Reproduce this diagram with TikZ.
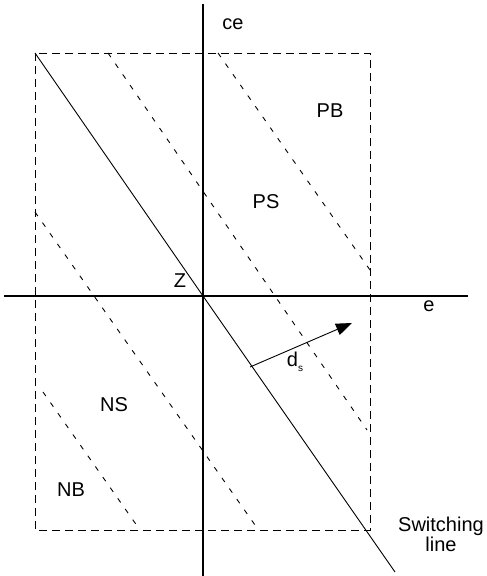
\documentclass[tikz,border=0pt]{standalone}
\usepackage{fontspec}
\setmainfont{Liberation Sans}
\usetikzlibrary{arrows.meta}

\tikzset{
  axis/.style={line width=1.4pt},
  boxline/.style={dash pattern=on 8pt off 5pt, line width=0.9pt},
  level/.style={dash pattern=on 5pt off 8pt, line width=0.9pt},
  swline/.style={line width=0.9pt},
  lbl/.style={font=\fontsize{20}{20}\selectfont, inner sep=0pt, align=center},
}

\begin{document}
\begin{tikzpicture}[x=1pt, y=-1pt]
    \useasboundingbox (0,0) rectangle (487,576);

    % axes
    \coordinate (O) at (203,296);
    \coordinate (eL) at (4,296);
    \coordinate (eR) at (468,296);
    \coordinate (ceT) at (203,4);
    \coordinate (ceB) at (203,576);
    \draw[axis] (eL) -- (eR);
    \draw[axis] (ceT) -- (ceB);

    % dashed box
    \coordinate (bTL) at (35,53);
    \coordinate (bBR) at (370,530);
    \draw[boxline] (bTL) rectangle (bBR);

    % switching line
    \coordinate (swEnd) at (395,572);
    \draw[swline] (bTL) -- (O) -- (swEnd);

    % level lines
    \coordinate (pbA) at (218,53);
    \coordinate (pbB) at (370,270);
    \coordinate (psA) at (108,53);
    \coordinate (psB) at (367,430);
    \coordinate (nsA) at (35,212);
    \coordinate (nsB) at (255,525);
    \coordinate (nbA) at (43,392);
    \coordinate (nbB) at (140,530);
    \draw[level] (pbA) -- (pbB);
    \draw[level] (psA) -- (psB);
    \draw[level] (nsA) -- (nsB);
    \draw[level] (nbA) -- (nbB);

    % distance arrow
    \coordinate (dsA) at (250,367);
    \coordinate (dsB) at (352,323);
    \draw[swline, -{Triangle[length=16pt, width=12pt]}] (dsA) -- (dsB);

    % labels
    \node[lbl] (ce) at (233,24) {ce};
    \node[lbl] (e) at (429,306) {e};
    \node[lbl] (z) at (180,281) {Z};
    \node[lbl] (pb) at (330,111) {PB};
    \node[lbl] (ps) at (266,202) {PS};
    \node[lbl] (ns) at (114,405) {NS};
    \node[lbl] (nb) at (71,490) {NB};
    \node[lbl] (ds) at (295,362) {d\raisebox{-5pt}{\fontsize{10}{10}\selectfont s}};
    \node[lbl] (sw) at (441,534) {Switching\\line};
\end{tikzpicture}
\end{document}
